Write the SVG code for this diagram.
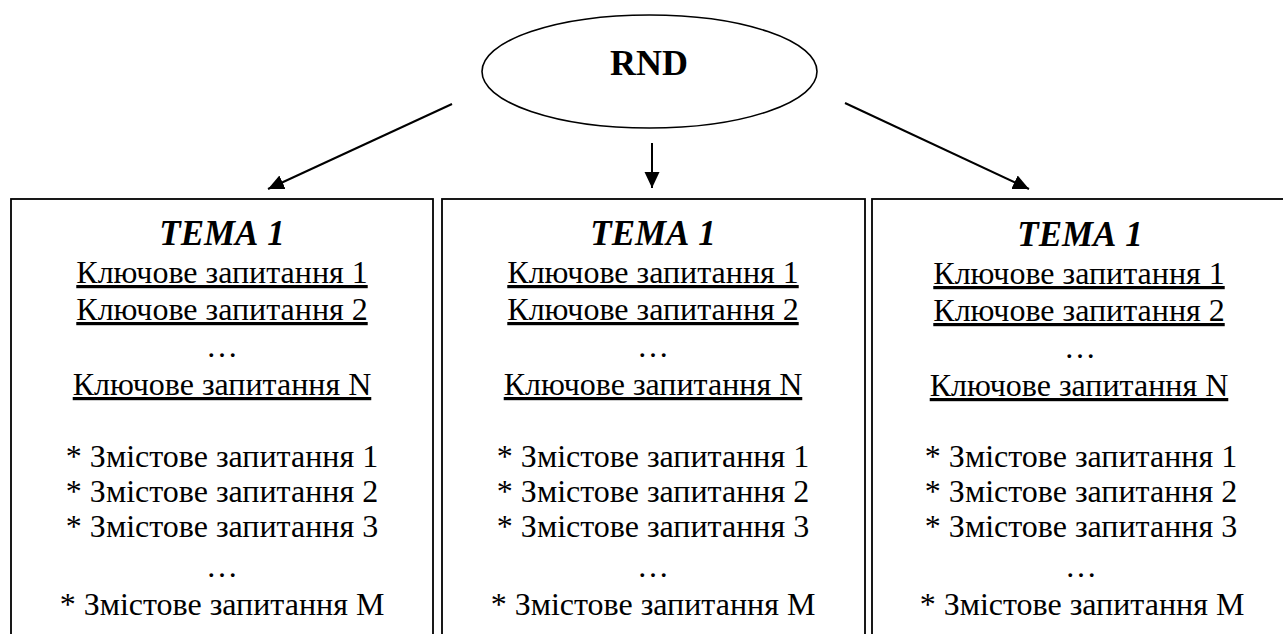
<svg xmlns="http://www.w3.org/2000/svg" width="1283" height="634" viewBox="0 0 1283 634">
<defs>
  <marker id="arr" markerUnits="userSpaceOnUse" markerWidth="17" markerHeight="16" refX="16" refY="7.5" orient="auto">
    <path d="M0,0 L16,7.5 L0,15 z" fill="#000"/>
  </marker>
</defs>
<rect width="1283" height="634" fill="#fff"/>
<g id="rnd">
  <ellipse cx="649.5" cy="71.5" rx="167.5" ry="56.5" fill="none" stroke="#000" stroke-width="1.6"/>
  <text font-family="Liberation Serif" text-anchor="middle" x="649" y="75" font-size="36" font-weight="bold">RND</text>
</g>
<g id="connectors" stroke="#000" stroke-width="2" fill="none">
  <line x1="452" y1="104" x2="268" y2="189" marker-end="url(#arr)"/>
  <line x1="652" y1="143" x2="652" y2="188" marker-end="url(#arr)"/>
  <line x1="845" y1="103" x2="1029" y2="189" marker-end="url(#arr)"/>
</g>
<g id="topic1">
  <rect x="11" y="199" width="422" height="460" fill="none" stroke="#000" stroke-width="1.8"/>
  <text font-family="Liberation Serif" text-anchor="middle" x="222" y="245" font-size="35" font-weight="bold" font-style="italic">ТЕМА 1</text>
  <text font-family="Liberation Serif" text-anchor="middle" font-size="32" x="222" y="283" text-decoration="underline">Ключове запитання 1</text>
  <text font-family="Liberation Serif" text-anchor="middle" font-size="32" x="222" y="320" text-decoration="underline">Ключове запитання 2</text>
  <text font-family="Liberation Serif" text-anchor="middle" font-size="32" x="222" y="357">…</text>
  <text font-family="Liberation Serif" text-anchor="middle" font-size="32" x="222" y="395" text-decoration="underline">Ключове запитання N</text>
  <text font-family="Liberation Serif" text-anchor="middle" font-size="32" x="222" y="467">* Змістове запитання 1</text>
  <text font-family="Liberation Serif" text-anchor="middle" font-size="32" x="222" y="502">* Змістове запитання 2</text>
  <text font-family="Liberation Serif" text-anchor="middle" font-size="32" x="222" y="537">* Змістове запитання 3</text>
  <text font-family="Liberation Serif" text-anchor="middle" font-size="32" x="222" y="577">…</text>
  <text font-family="Liberation Serif" text-anchor="middle" font-size="32" x="222" y="615">* Змістове запитання M</text>
</g>
<g id="topic2">
  <rect x="442" y="199" width="423" height="460" fill="none" stroke="#000" stroke-width="1.8"/>
  <text font-family="Liberation Serif" text-anchor="middle" x="653" y="245" font-size="35" font-weight="bold" font-style="italic">ТЕМА 1</text>
  <text font-family="Liberation Serif" text-anchor="middle" font-size="32" x="653" y="283" text-decoration="underline">Ключове запитання 1</text>
  <text font-family="Liberation Serif" text-anchor="middle" font-size="32" x="653" y="320" text-decoration="underline">Ключове запитання 2</text>
  <text font-family="Liberation Serif" text-anchor="middle" font-size="32" x="653" y="357">…</text>
  <text font-family="Liberation Serif" text-anchor="middle" font-size="32" x="653" y="395" text-decoration="underline">Ключове запитання N</text>
  <text font-family="Liberation Serif" text-anchor="middle" font-size="32" x="653" y="467">* Змістове запитання 1</text>
  <text font-family="Liberation Serif" text-anchor="middle" font-size="32" x="653" y="502">* Змістове запитання 2</text>
  <text font-family="Liberation Serif" text-anchor="middle" font-size="32" x="653" y="537">* Змістове запитання 3</text>
  <text font-family="Liberation Serif" text-anchor="middle" font-size="32" x="653" y="577">…</text>
  <text font-family="Liberation Serif" text-anchor="middle" font-size="32" x="653" y="615">* Змістове запитання M</text>
</g>
<g id="topic3">
  <rect x="872" y="199" width="430" height="460" fill="none" stroke="#000" stroke-width="1.8"/>
  <text font-family="Liberation Serif" text-anchor="middle" x="1080" y="246" font-size="35" font-weight="bold" font-style="italic">ТЕМА 1</text>
  <text font-family="Liberation Serif" text-anchor="middle" font-size="32" x="1079" y="284" text-decoration="underline">Ключове запитання 1</text>
  <text font-family="Liberation Serif" text-anchor="middle" font-size="32" x="1079" y="321" text-decoration="underline">Ключове запитання 2</text>
  <text font-family="Liberation Serif" text-anchor="middle" font-size="32" x="1080" y="358">…</text>
  <text font-family="Liberation Serif" text-anchor="middle" font-size="32" x="1079" y="396" text-decoration="underline">Ключове запитання N</text>
  <text font-family="Liberation Serif" text-anchor="middle" font-size="32" x="1081" y="467">* Змістове запитання 1</text>
  <text font-family="Liberation Serif" text-anchor="middle" font-size="32" x="1081" y="502">* Змістове запитання 2</text>
  <text font-family="Liberation Serif" text-anchor="middle" font-size="32" x="1081" y="537">* Змістове запитання 3</text>
  <text font-family="Liberation Serif" text-anchor="middle" font-size="32" x="1081" y="577">…</text>
  <text font-family="Liberation Serif" text-anchor="middle" font-size="32" x="1082" y="615">* Змістове запитання M</text>
</g>
</svg>
